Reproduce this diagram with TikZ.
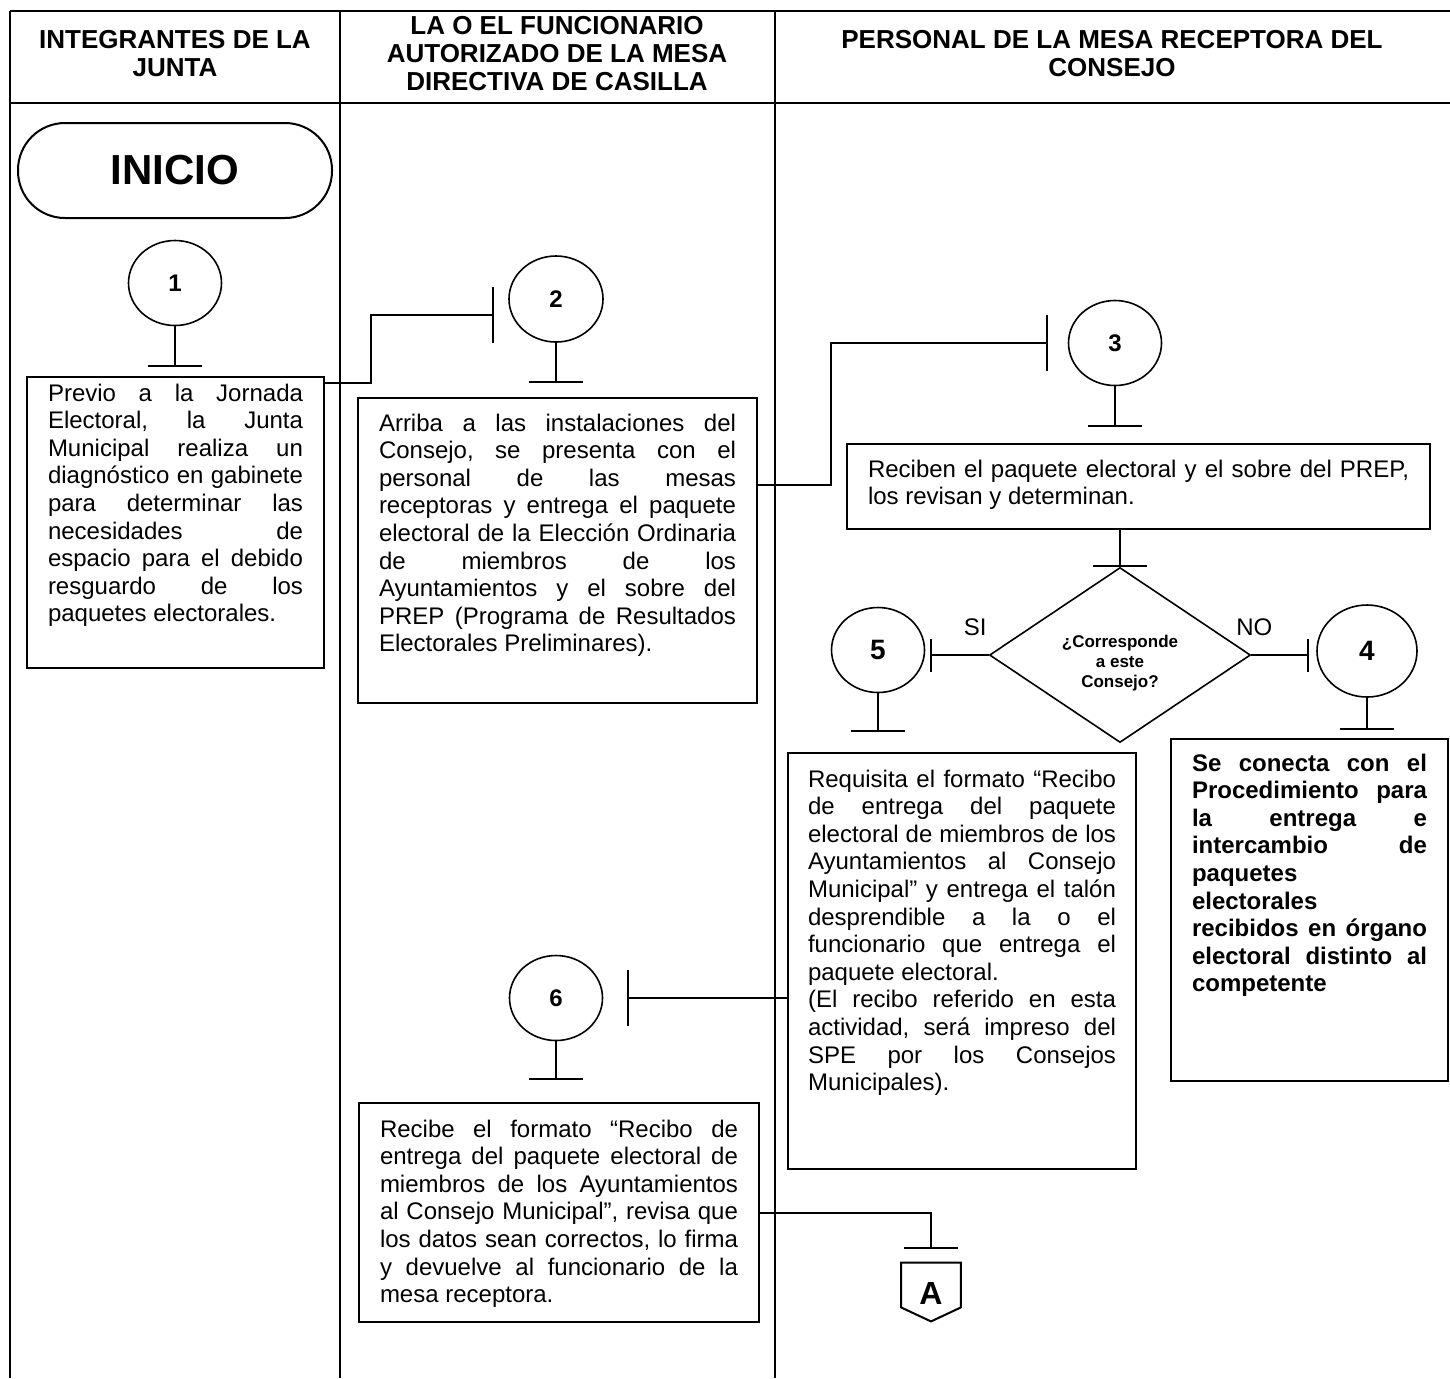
\documentclass[tikz,border=0pt]{standalone}
\usepackage{fontspec}
\setmainfont{Liberation Sans}
\usetikzlibrary{arrows.meta,shapes.geometric}

\begin{document}
\frenchspacing
\begin{tikzpicture}[
  x=0.5pt, y=-0.5pt,
  marco/.style={line width=1.4pt},
  head/.style={align=center, inner sep=0pt, font=\bfseries\fontsize{13}{14}\selectfont},
  inicio/.style={draw, line width=1pt, rounded corners=23.5pt, minimum width=157pt, minimum height=47.5pt, font=\bfseries\fontsize{21}{24}\selectfont},
  paso/.style={draw, ellipse, line width=0.8pt, inner sep=0pt, minimum width=46.5pt, minimum height=42.5pt, font=\bfseries\fontsize{12}{14}\selectfont},
  pasog/.style={paso, font=\bfseries\fontsize{14}{16}\selectfont},
  caja/.style={draw, line width=1pt, anchor=north west, inner xsep=10.5pt, inner ysep=0pt, align=justify, font=\fontsize{12}{13.8}\selectfont},
  decision/.style={draw, diamond, line width=0.8pt, inner sep=0pt, minimum width=130.5pt, minimum height=87.5pt},
  pregunta/.style={align=center, inner sep=0pt, font=\bfseries\fontsize{8.5}{10}\selectfont},
  lbl/.style={inner sep=0pt, font=\fontsize{12}{13.8}\selectfont},
  conector/.style={inner sep=0pt, minimum width=29.5pt, anchor=base, text height=20.75pt, text depth=1.25pt, font=\bfseries\fontsize{16}{18}\selectfont},
  tee/.style={line width=1pt, -{Bar[width=27pt]}},
  teel/.style={line width=1pt, -{Bar[width=28pt]}},
  tees/.style={line width=1pt, -{Bar[width=16.5pt]}}
]
  \useasboundingbox (0,0) rectangle (1450,1378);

  \draw[marco] (10,11) -- (1450,11);
  \draw[marco] (10,103) -- (1450,103);
  \draw[marco] (10,11) -- (10,1378);
  \draw[marco] (340,11) -- (340,1378);
  \draw[marco] (775,11) -- (775,1378);

  \node[head] (h1) at (175,54) {INTEGRANTES DE LA\\JUNTA};
  \node[head] (h2) at (557,54) {LA O EL FUNCIONARIO\\AUTORIZADO DE LA MESA\\DIRECTIVA DE CASILLA};
  \node[head] (h3) at (1112,54) {PERSONAL DE LA MESA RECEPTORA DEL\\CONSEJO};

  \node[inicio] (ini) at (175,170.5) {INICIO};
  \node[paso] (c1) at (175,283) {1};
  \node[caja, text width=127.5pt, text height=12pt, text depth=133.5pt] (b1) at (26,376)
    {Previo a la Jornada\linebreak Electoral, la Junta\linebreak Municipal realiza un\linebreak diagnóstico en gabinete\linebreak para determinar las\linebreak necesidades de\linebreak espacio para el debido\linebreak resguardo de los\linebreak paquetes electorales.};

  \node[paso, minimum width=47pt, minimum height=43pt] (c2) at (556,299) {2};
  \node[caja, text width=178.5pt, text height=16.5pt, text depth=136pt] (b2) at (357,397)
    {Arriba a las instalaciones del\linebreak Consejo, se presenta con el\linebreak personal de las mesas\linebreak receptoras y entrega el paquete\linebreak electoral de la Elección Ordinaria\linebreak de miembros de los\linebreak Ayuntamientos y el sobre del\linebreak PREP (Programa de Resultados\linebreak Electorales Preliminares).};

  \node[paso] (c3) at (1115,343) {3};
  \node[caja, text width=270.5pt, text height=16.5pt, text depth=26pt] (b3) at (846,443)
    {Reciben el paquete electoral y el sobre del PREP,\linebreak los revisan y determinan.};

  \node[decision] (dec) at (1120,655) {};
  \node[pregunta] (q) at (1120,663) {¿Corresponde\\a este\\Consejo?};
  \node[lbl] (si) at ([xshift=-6.75pt,yshift=14pt]dec.west) {SI};
  \node[lbl] (no) at ([xshift=1.5pt,yshift=14pt]dec.east) {NO};

  \node[pasog] (c5) at (878,650) {5};
  \node[pasog, minimum width=50pt, minimum height=46pt] (c4) at (1367,651) {4};

  \node[caja, text width=154pt, inner xsep=10pt, text height=17pt, text depth=191pt] (b5) at (787,752)
    {Requisita el formato “Recibo\linebreak de entrega del paquete\linebreak electoral de miembros de los\linebreak Ayuntamientos al Consejo\linebreak Municipal” y entrega el talón\linebreak desprendible a la o el\linebreak funcionario que entrega el\linebreak paquete electoral.\par
    (El recibo referido en esta\linebreak actividad, será impreso del\linebreak SPE por los Consejos\linebreak Municipales).};
  \node[caja, text width=117.5pt, text height=16pt, text depth=155pt, font=\bfseries\fontsize{12}{13.8}\selectfont] (b4) at (1170,738)
    {Se conecta con el\linebreak Procedimiento para\linebreak la entrega e\linebreak intercambio de\linebreak paquetes\linebreak electorales\linebreak recibidos en órgano\linebreak electoral distinto al\linebreak competente};

  \node[paso] (c6) at (556,998) {6};
  \node[caja, text width=179pt, text height=17pt, text depth=92.5pt] (b6) at (358,1102)
    {Recibe el formato “Recibo de\linebreak entrega del paquete electoral de\linebreak miembros de los Ayuntamientos\linebreak al Consejo Municipal”, revisa que\linebreak los datos sean correctos, lo firma\linebreak y devuelve al funcionario de la\linebreak mesa receptora.};

  \node[conector] (offA) at (931,1304.5) {A};
  \draw[line width=1pt] (offA.south west) -- (offA.north west) -- (offA.north east) -- (offA.south east) -- ([yshift=-7pt]offA.south) -- cycle;

  \draw[tee] (c1.south) -- ([yshift=4.5pt]c1.south |- b1.north);
  \draw[teel] ([yshift=-3.5pt]b1.north east) -- ++(46,0) |- ([xshift=-7pt,yshift=-8pt]c2.west);
  \draw[tee] (c2.south) -- ([yshift=7pt]c2.south |- b2.north);
  \draw[teel] ([yshift=33pt]b2.east) -- ++(73,0) |- ([xshift=-10pt]c3.west);
  \draw[tee] (c3.south) -- ([yshift=8pt]c3.south |- b3.north);
  \draw[tee] (b3.south -| dec.north) -- (dec.north);
  \draw[tees] (dec.west) -- ([xshift=2.5pt]c5.east |- dec.west);
  \draw[tees] (dec.east) -- ([xshift=-3.5pt]c4.west |- dec.east);
  \draw[tee] (c5.south) -- ([yshift=10pt]c5.south |- b5.north);
  \draw[tee] (c4.south) -- ([yshift=4pt]c4.south |- b4.north);
  \draw[teel] (b5.west |- c6) -- ([xshift=12pt]c6.east);
  \draw[tee] (c6.south) -- ([yshift=11pt]c6.south |- b6.north);
  \draw[tee] (b6.east) -| ([yshift=7pt]offA.north);
\end{tikzpicture}
\end{document}
